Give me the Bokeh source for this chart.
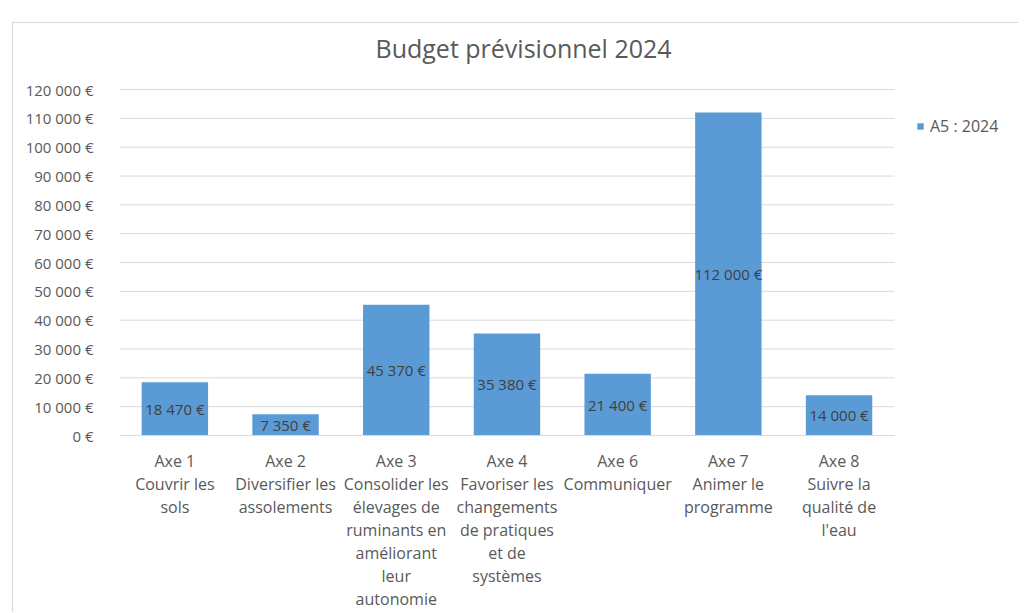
from bokeh.plotting import figure
from bokeh.models import (ColumnDataSource, FixedTicker, LabelSet, Label, Legend,
                          LegendItem, LinearAxis, Range1d)
from bokeh.core.properties import value
from bokeh.embed import file_html
from bokeh.resources import INLINE

title_text = "Budget prévisionnel 2024"
series_name = "A5 : 2024"
categories = [
    "Axe 1\nCouvrir les\nsols",
    "Axe 2\nDiversifier les\nassolements",
    "Axe 3\nConsolider les\nélevages de\nruminants en\naméliorant\nleur\nautonomie",
    "Axe 4\nFavoriser les\nchangements\nde pratiques\net de\nsystèmes",
    "Axe 6\nCommuniquer",
    "Axe 7\nAnimer le\nprogramme",
    "Axe 8\nSuivre la\nqualité de\nl'eau",
]
budgets = [18470, 7350, 45370, 35380, 21400, 112000, 14000]
value_labels = ["18 470 €", "7 350 €", "45 370 €", "35 380 €", "21 400 €", "112 000 €", "14 000 €"]
y_ticks = [0, 10000, 20000, 30000, 40000, 50000, 60000, 70000, 80000, 90000,
           100000, 110000, 120000]
y_tick_labels = ["0 €", "10 000 €", "20 000 €", "30 000 €", "40 000 €", "50 000 €",
                 "60 000 €", "70 000 €", "80 000 €", "90 000 €", "100 000 €",
                 "110 000 €", "120 000 €"]

FONT = "Open Sans"
GRAY = "#595959"

lines = [c.split("\n") for c in categories]
n_cat = len(categories)
n_lines = max(len(l) for l in lines)
positions = list(range(n_cat))
x_lo = positions[0] - 0.5
x_hi = positions[-1] + 0.5

src = ColumnDataSource(dict(
    x=positions,
    val=budgets,
    mid=[v / 2 for v in budgets],
    lab=value_labels,
))

# frame spans the chart area; extra room on the right holds the legend,
# extra room on top holds the title
p = figure(x_range=Range1d(x_lo, 7.63), y_range=Range1d(0, 142900),
           width=1006, height=590, output_backend="svg", toolbar_location=None,
           min_border_left=106, min_border_right=0, min_border_top=0,
           min_border_bottom=178)
p.margin = (22, 0, 0, 12)
p.styles = {"border-left": "1px solid #d9d9d9", "border-top": "1px solid #d9d9d9"}
p.outline_line_color = None
p.background_fill_color = "white"
p.border_fill_color = "white"

# horizontal gridlines limited to the category area
p.xgrid.grid_line_color = None
p.ygrid.grid_line_color = None
p.segment(x0=[x_lo] * len(y_ticks), x1=[x_hi] * len(y_ticks), y0=y_ticks,
          y1=y_ticks, line_color="#d9d9d9", line_width=1, level="underlay")

r = p.vbar(x="x", top="val", width=0.6, source=src, fill_color="#5B9BD5",
           line_color=None)

labels = LabelSet(x="x", y="mid", text="lab", source=src, text_align="center",
                  text_baseline="middle", text_font=value(FONT),
                  text_font_size="15px", text_color="#404040")
p.add_layout(labels)

# title
p.add_layout(Label(x=3.15, y=134570, text=title_text, text_align="center",
                   text_baseline="middle", text_font=FONT,
                   text_font_size="25px", text_color=GRAY))

# y axis
p.yaxis.ticker = FixedTicker(ticks=y_ticks)
p.yaxis.major_label_overrides = {t: l for t, l in zip(y_ticks, y_tick_labels)}
p.yaxis.axis_line_color = None
p.yaxis.major_tick_line_color = None
p.yaxis.minor_tick_line_color = None
p.yaxis.major_tick_out = 0
p.yaxis.major_tick_in = 0
p.yaxis.minor_tick_out = 0
p.yaxis.major_label_standoff = 26
p.yaxis.major_label_text_font = FONT
p.yaxis.major_label_text_font_size = "15px"
p.yaxis.major_label_text_color = GRAY


def style_xaxis(ax, standoff, show_line):
    ax.axis_line_color = "#d9d9d9" if show_line else None
    ax.major_tick_line_color = None
    ax.minor_tick_line_color = None
    ax.major_tick_out = 0
    ax.major_tick_in = 0
    ax.minor_tick_out = 0
    ax.minor_tick_in = 0
    ax.major_label_standoff = standoff
    ax.major_label_text_font = FONT
    ax.major_label_text_font_size = "16px"
    ax.major_label_text_color = GRAY
    ax.major_label_orientation = "horizontal"


# category labels: one stacked axis per text line
main_ax = p.xaxis[0]
main_ax.ticker = FixedTicker(ticks=positions)
main_ax.major_label_overrides = {i: lines[i][0] for i in positions}
main_ax.bounds = (x_lo, x_hi)
style_xaxis(main_ax, 14, True)
for k in range(1, n_lines):
    idx = [i for i in positions if k < len(lines[i])]
    ax = LinearAxis(ticker=FixedTicker(ticks=idx),
                    major_label_overrides={i: lines[i][k] for i in idx})
    style_xaxis(ax, -2, False)
    p.add_layout(ax, "below")

# legend (inside the frame, right of the category area)
legend = Legend(items=[LegendItem(label=series_name, renderers=[r])],
                location=(797, 298), glyph_width=8, glyph_height=8,
                label_height=20, label_standoff=6, padding=0, margin=0,
                border_line_color=None, background_fill_alpha=0,
                label_text_font=FONT, label_text_font_size="16px",
                label_text_color=GRAY)
p.add_layout(legend, "center")

open("out.html", "w").write(file_html(p, INLINE))
